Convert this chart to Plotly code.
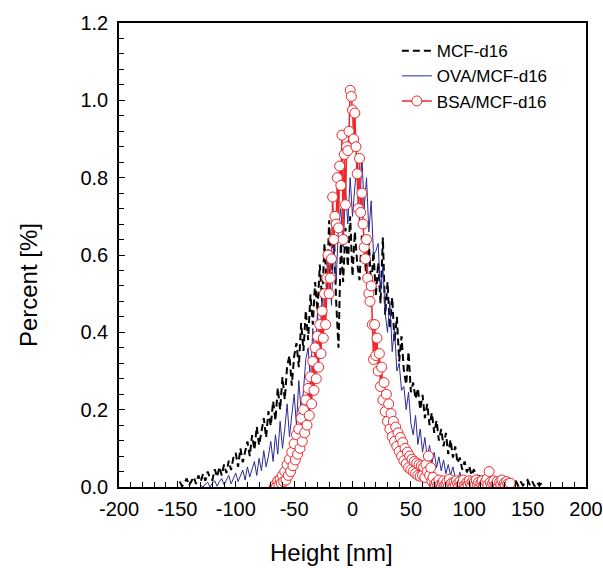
import plotly.graph_objects as go

# ---------------- data ----------------
mcf_x_start = -148   # step 2 nm
mcf_y = [
    0.014, 0.002, 0.010, 0.022, 0.004, 0.016, 0.026, 0.008, 0.030, 0.014,
    0.034, 0.016, 0.040, 0.022, 0.018, 0.046, 0.026, 0.052, 0.030, 0.058,
    0.036, 0.068, 0.044, 0.076, 0.088, 0.052, 0.100, 0.064, 0.092, 0.118,
    0.080, 0.134, 0.096, 0.156, 0.108, 0.142, 0.178, 0.128, 0.196, 0.158,
    0.222, 0.172, 0.256, 0.200, 0.284, 0.226, 0.312, 0.340, 0.262, 0.338,
    0.372, 0.310, 0.424, 0.352, 0.456, 0.380, 0.498, 0.420, 0.530, 0.455,
    0.575, 0.480, 0.630, 0.510, 0.690, 0.530, 0.665, 0.480, 0.360, 0.630,
    0.530, 0.670, 0.570, 0.700, 0.545, 0.660, 0.580, 0.535, 0.650, 0.625,
    0.530, 0.635, 0.515, 0.610, 0.495, 0.580, 0.475, 0.645, 0.445, 0.530,
    0.410, 0.490, 0.375, 0.440, 0.325, 0.390, 0.300, 0.265, 0.350, 0.245,
    0.270, 0.228, 0.255, 0.200, 0.238, 0.178, 0.215, 0.160, 0.192, 0.140,
    0.172, 0.120, 0.150, 0.105, 0.140, 0.085, 0.122, 0.076, 0.105, 0.062,
    0.076, 0.045, 0.066, 0.038, 0.054, 0.030, 0.046, 0.022, 0.036, 0.016,
    0.030, 0.010, 0.026, 0.008, 0.022, 0.004, 0.018, 0.008, 0.016, 0.004,
    0.014, 0.002, 0.012, 0.006, 0.016, 0.002, 0.014, 0.004, 0.012, 0.018,
    0.004, 0.014, 0.002, 0.012, 0.004, 0.010,
]
mcf_step = 2

ova_x_start = -130   # step 2 nm
ova_y = [
    0.004, 0.000, 0.008, 0.012, 0.000, 0.010, 0.016, 0.002, 0.014, 0.022,
    0.006, 0.018, 0.030, 0.008, 0.024, 0.036,
    0.014, 0.030, 0.044, 0.018, 0.052, 0.026, 0.046, 0.066, 0.030, 0.074,
    0.042, 0.094, 0.052, 0.080, 0.118,
    0.066, 0.135, 0.085, 0.170, 0.100, 0.150, 0.215, 0.130, 0.190, 0.240,
    0.160, 0.275, 0.195, 0.250, 0.330,
    0.360, 0.270, 0.410, 0.330, 0.450, 0.370, 0.500, 0.410, 0.540, 0.575,
    0.470, 0.635, 0.530, 0.675, 0.720,
    0.620, 0.770, 0.680, 0.800, 0.700, 0.780, 0.850, 0.680, 0.860, 0.720,
    0.800, 0.660, 0.740, 0.600, 0.610,
    0.630, 0.500, 0.570, 0.450, 0.400, 0.480, 0.350, 0.410, 0.300, 0.320,
    0.250, 0.260, 0.200, 0.245, 0.165,
    0.135, 0.185, 0.110, 0.150, 0.090, 0.128, 0.075, 0.108, 0.062, 0.090,
    0.050, 0.078, 0.042, 0.070, 0.034,
    0.058, 0.030, 0.052, 0.024, 0.018, 0.038, 0.012, 0.006, 0.016, 0.002,
]
ova_step = 2

bsa_x_start = -67    # step 1 nm
bsa_y = [
    # -67 .. -21
    0.000, 0.006, 0.002, 0.016, 0.004, 0.020, 0.010, 0.030, 0.014, 0.040,
    0.018, 0.058, 0.030, 0.072, 0.040, 0.090, 0.055, 0.112, 0.070, 0.135,
    0.085, 0.150, 0.100, 0.178, 0.118, 0.200, 0.140, 0.225, 0.160, 0.255,
    0.185, 0.285, 0.215, 0.325, 0.250, 0.360, 0.280, 0.390, 0.310, 0.420,
    0.345, 0.455, 0.385, 0.500, 0.420, 0.540, 0.600,
    # -20 .. 17
    0.500, 0.540, 0.590, 0.750, 0.640, 0.700, 0.680, 0.800, 0.670, 0.830,
    0.780, 0.910, 0.640, 0.860, 0.730, 0.880, 0.870, 0.920, 1.026, 1.010,
    0.975, 0.900, 0.967, 0.880, 0.810, 0.720, 0.850, 0.710, 0.760, 0.680,
    0.620, 0.590, 0.640, 0.540, 0.500, 0.480, 0.520, 0.420,
    # 18 .. 70
    0.330, 0.420, 0.340, 0.385, 0.300, 0.345, 0.260, 0.310, 0.225, 0.270,
    0.195, 0.240, 0.170, 0.215, 0.150, 0.190, 0.130, 0.170, 0.118, 0.155,
    0.105, 0.140, 0.092, 0.128, 0.080, 0.115, 0.068, 0.100, 0.060, 0.090,
    0.050, 0.080, 0.045, 0.072, 0.040, 0.066, 0.035, 0.062, 0.030, 0.058,
    0.028, 0.055, 0.030, 0.052, 0.025, 0.058, 0.040, 0.080, 0.030, 0.050,
    0.015, 0.025, 0.005,
    # 71 .. 135
    0.002, 0.012, 0.004, 0.018, 0.006, 0.000, 0.010, 0.016, 0.004, 0.008,
    0.014, 0.002, 0.020, 0.006, 0.010, 0.000, 0.012, 0.004, 0.016, 0.008,
    0.002, 0.014, 0.006, 0.010, 0.018, 0.004, 0.000, 0.012, 0.006, 0.016,
    0.008, 0.002, 0.014, 0.010, 0.004, 0.018, 0.006, 0.012, 0.000, 0.010,
    0.016, 0.004, 0.008, 0.014, 0.020, 0.006, 0.040, 0.012, 0.002, 0.010,
    0.016, 0.004, 0.008, 0.014, 0.000, 0.012, 0.006, 0.018, 0.002, 0.010,
    0.004, 0.014, 0.008, 0.002, 0.010,
]
bsa_step = 1

mcf_x = [mcf_x_start + mcf_step * i for i in range(len(mcf_y))]
ova_x = [ova_x_start + ova_step * i for i in range(len(ova_y))]
bsa_x = [bsa_x_start + bsa_step * i for i in range(len(bsa_y))]

x_ticks = [-200, -150, -100, -50, 0, 50, 100, 150, 200]
y_ticks = [0.0, 0.2, 0.4, 0.6, 0.8, 1.0, 1.2]

FONT = "Liberation Sans, Arial, sans-serif"

fig = go.Figure()
fig.add_trace(go.Scatter(
    x=mcf_x, y=mcf_y, mode="lines", name="MCF-d16",
    line=dict(color="black", width=2, dash="7px,4px"),
))
fig.add_trace(go.Scatter(
    x=ova_x, y=ova_y, mode="lines", name="OVA/MCF-d16",
    line=dict(color="#2b2b96", width=1),
))
fig.add_trace(go.Scatter(
    x=bsa_x, y=bsa_y, mode="lines+markers", name="BSA/MCF-d16",
    line=dict(color="#f0262a", width=1.5),
    marker=dict(symbol="circle", size=10, color="white",
                line=dict(color="#f0262a", width=1)),
))

axis_common = dict(
    showgrid=False, zeroline=False, showline=True, linecolor="black",
    linewidth=1.5, mirror=True, ticks="inside", ticklen=6, tickwidth=1.2,
    tickcolor="black", tickfont=dict(family=FONT, size=20, color="black"),
    automargin=False,
)

fig.update_layout(
    width=603, height=568,
    margin=dict(l=119, r=17, t=23, b=81),
    paper_bgcolor="white", plot_bgcolor="white",
    font=dict(family=FONT, color="black"),
    showlegend=True,
    legend=dict(
        x=0.595, y=0.978, xanchor="left", yanchor="top",
        bgcolor="rgba(0,0,0,0)", font=dict(family=FONT, size=17),
        tracegroupgap=0,
    ),
    xaxis=dict(
        range=[-200, 200], tickvals=x_ticks,
        ticktext=[str(v) for v in x_ticks],
        minor=dict(dtick=10, ticks="inside", ticklen=5, tickwidth=1.2,
                   tickcolor="black", showgrid=False),
        ticklabelstandoff=3,
        **axis_common,
    ),
    yaxis=dict(
        range=[0, 1.2], tickvals=y_ticks,
        ticktext=["%.1f" % v for v in y_ticks],
        minor=dict(dtick=0.04, ticks="inside", ticklen=5, tickwidth=1.2,
                   tickcolor="black", showgrid=False),
        ticklabelstandoff=5,
        **axis_common,
    ),
    annotations=[
        dict(text="Height [nm]", xref="paper", yref="paper",
             x=0.454, y=-0.142, xanchor="center", yanchor="middle",
             showarrow=False, font=dict(family=FONT, size=24)),
        dict(text="Percent [%]", xref="paper", yref="paper",
             x=-0.195, y=0.435, xanchor="center", yanchor="middle",
             textangle=-90, showarrow=False, font=dict(family=FONT, size=24)),
    ],
)

fig.write_html("out.html")
